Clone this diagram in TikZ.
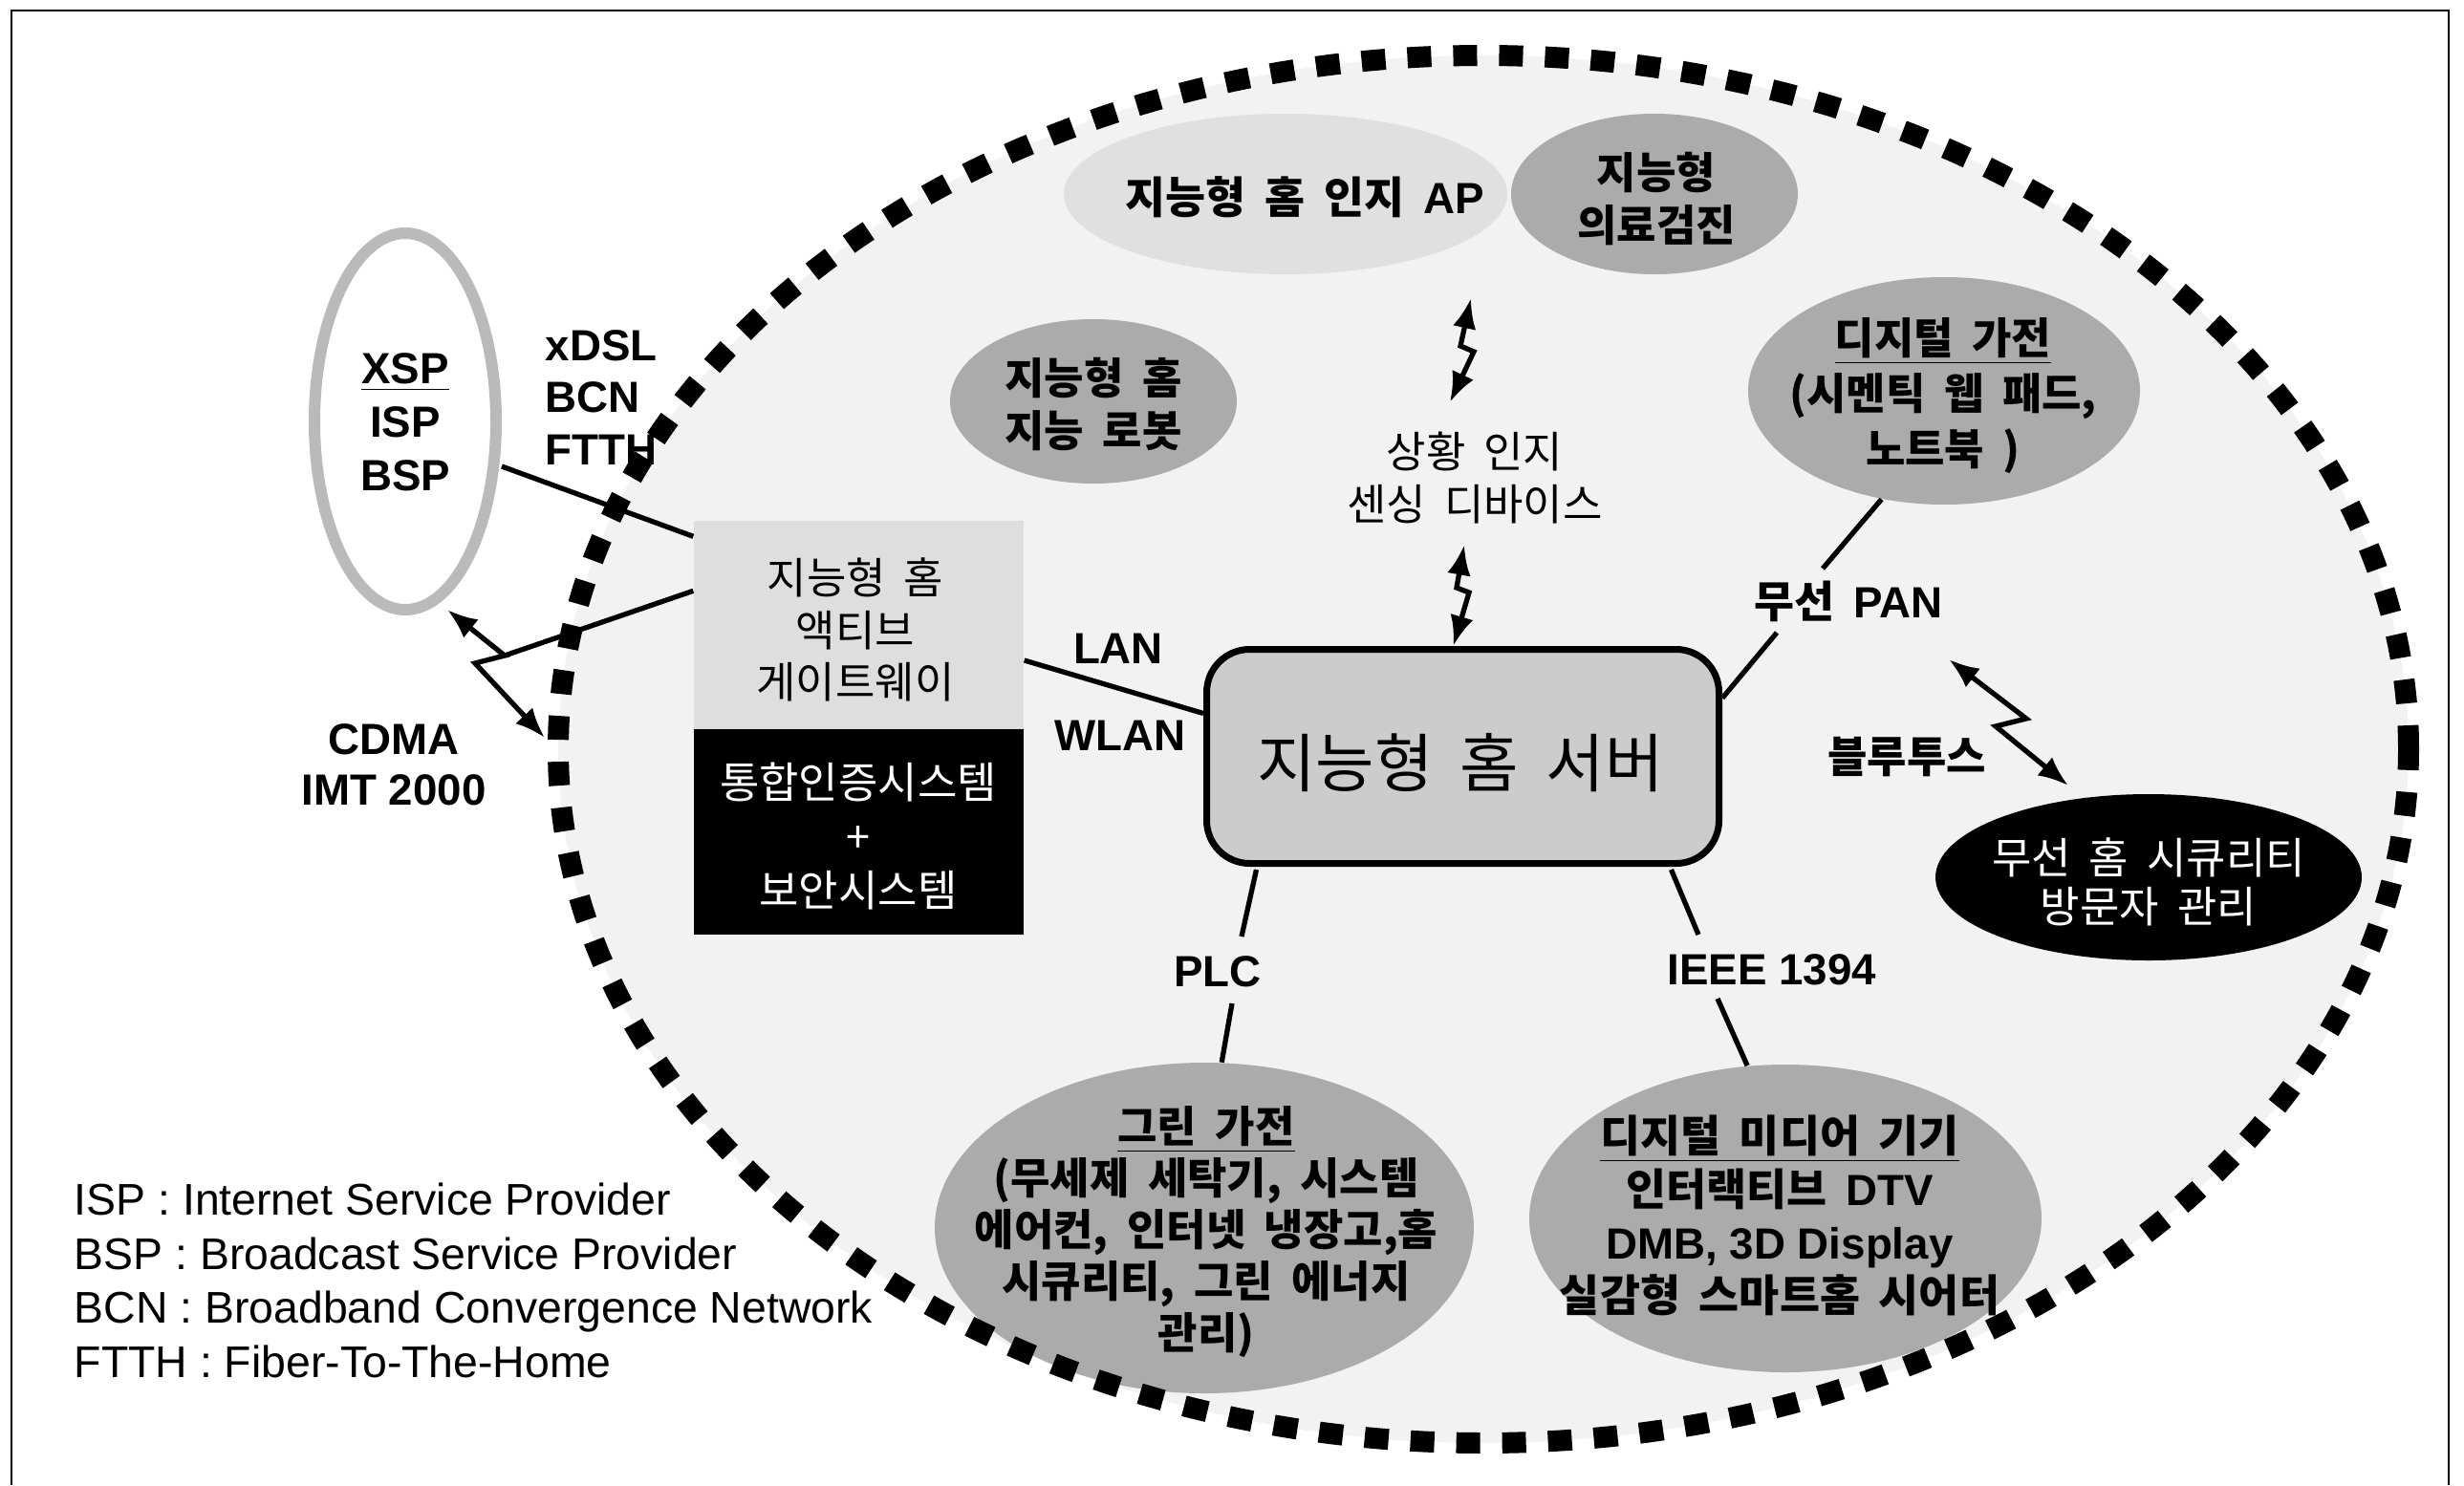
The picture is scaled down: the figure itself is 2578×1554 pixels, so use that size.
\documentclass[tikz,border=0pt]{standalone}
\usepackage{fontspec}
\setmainfont{Liberation Sans}
\newfontfamily\kr[WordSpace=1.9]{Noto Sans CJK KR}
\usetikzlibrary{shapes.geometric,arrows.meta,calc}
\newcommand\fsz[2]{\fontsize{#1}{#2}\selectfont}
\tikzset{
  blob/.style={ellipse, draw=none, inner sep=0pt, fill=black!33},
  conn/.style={line width=1.5pt, draw=black},
  bolt/.style={line width=1.5pt, draw=black, line join=miter, arrows={Latex[length=9pt,width=7pt]-Latex[length=9pt,width=7pt]}},
  lab/.style={inner sep=0pt, align=center, font=\fsz{13pt}{15.6pt}\bfseries},
  krb/.style={inner sep=0pt, align=center, font=\kr\fsz{12.8pt}{15.6pt}\bfseries},
  krr/.style={inner sep=0pt, align=center, font=\kr\fsz{12.8pt}{15.6pt}},
}
\begin{document}
\begin{tikzpicture}[x=0.1mm,y=-0.1mm]
\useasboundingbox (0,0) rectangle (2578,1554);
% frame
\draw[line width=0.6pt] (12,1554) -- (12,11) -- (2562,11) -- (2562,1554);
% home area
\node[ellipse, fill=black!5, inner sep=0pt, minimum width=193.6mm, minimum height=145.2mm] (home) at (1552,784) {};
% gateway
\node[fill=black!13, minimum width=34.5mm, minimum height=21.8mm, inner sep=0pt] (gw) at (898.5,654) {};
\node[fill=black, minimum width=34.5mm, minimum height=21.5mm, inner sep=0pt] (auth) at (898.5,870.5) {};
% blobs
\node[blob, fill=black!12, minimum width=46.4mm, minimum height=16.8mm] (ap) at (1345,203) {};
\node[blob, minimum width=30mm, minimum height=16.8mm] (med) at (1731,203) {};
\node[blob, minimum width=30mm, minimum height=17.2mm] (robot) at (1144,420) {};
\node[blob, minimum width=41mm, minimum height=23.8mm] (dg) at (2034,409) {};
\node[blob, minimum width=56.4mm, minimum height=34.6mm] (green) at (1260,1285) {};
\node[blob, minimum width=53.6mm, minimum height=32.2mm] (media) at (1868,1275) {};
\node[blob, fill=black, minimum width=44.6mm, minimum height=17.4mm] (secu) at (2248,918) {};
\node[ellipse, draw=black!27, line width=1.2mm, inner sep=0pt, minimum width=19mm, minimum height=39.4mm] (xsp) at (424,441) {};
% server
\node[draw=black, line width=0.7mm, rounded corners=4.5mm, fill=black!20, minimum width=53.6mm, minimum height=22.4mm, inner sep=0pt] (server) at (1530.5,791.5) {};
% dashed boundary
\draw[line width=2.2mm, dash pattern=on 2.5mm off 2.3mm] (home.center) ellipse [x radius=96.8mm, y radius=72.6mm];

% texts
\node[lab, font=\fsz{13pt}{15.9pt}\bfseries] (xspt) at (424,442) {\underline{XSP}\\ISP\\BSP};
\node[lab, anchor=west, align=left] (wired) at (570,416) {xDSL\\BCN\\FTTH};
\node[lab, font=\fsz{13pt}{15.1pt}\bfseries] (cdma) at (412,800) {CDMA\\IMT 2000};
\node[krr] (gwt) at (895,659) {지능형 홈\\액티브\\게이트웨이};
\node[krr, text=white, font=\kr\fsz{12.8pt}{16.2pt}] (autht) at (898,875) {통합인증시스템\\+\\보안시스템};
\node[lab] (lan) at (1170,679) {LAN};
\node[lab] (wlan) at (1172,770) {WLAN};
\node[inner sep=0pt, font=\kr\fsz{19pt}{22pt}] (servert) at (1528,798) {지능형 홈 서버};
\node[lab] (apt) at (1365,206) {{\kr 지능형 홈 인지 }AP};
\node[krb, font=\kr\fsz{12.8pt}{15.4pt}\bfseries] (medt) at (1733,208) {지능형\\의료검진};
\node[krb] (robott) at (1144,423) {지능형 홈\\지능 로봇};
\node[krb, font=\kr\fsz{12.8pt}{16.6pt}\bfseries] (dgt) at (2033,414) {\underline{디지털 가전}\\(시멘틱 웹 패드,\\노트북 )};
\node[krr] (sense) at (1543,500) {상황 인지\\센싱 디바이스};
\node[lab] (pan) at (1934,629) {{\kr 무선 }PAN};
\node[krb] (bt) at (1995,792) {블루투스};
\node[krr, text=white, font=\kr\fsz{12.8pt}{14.4pt}] (secut) at (2248,923) {무선 홈 시큐리티\\방문자 관리};
\node[lab] (plc) at (1274,1017) {PLC};
\node[lab] (ieee) at (1854,1015) {IEEE 1394};
\node[krb, font=\kr\fsz{12.8pt}{15.4pt}\bfseries] (greent) at (1262,1289) {\underline{그린 가전}\\(무세제 세탁기, 시스템\\에어컨, 인터넷 냉장고,홈\\시큐리티, 그린 에너지\\관리)};
\node[lab, font=\fsz{13pt}{15.9pt}\bfseries] (mediat) at (1862,1272) {{\kr\underline{디지털 미디어 기기}}\\{\kr 인터랙티브 }DTV\\DMB, 3D Display\\{\kr 실감형 스마트홈 시어터}};
\node[anchor=west, align=left, inner sep=0pt, font=\fsz{13.2pt}{16.1pt}] (legend) at (77,1340) {ISP : Internet Service Provider\\BSP : Broadcast Service Provider\\BCN : Broadband Convergence Network\\FTTH : Fiber-To-The-Home};

% connectors
\draw[conn] ($(xsp.center)+(101,47)$) -- ($(gw.north west)+(0,17)$);
\coordinate (c1) at ($(xsp.center)+(44,197)$);
\coordinate (c2) at (528,686);
\coordinate (c3) at (497,694);
\coordinate (c4) at (570,772);
\draw[bolt] (c1) -- (c2) -- (c3) -- (c4);
\draw[conn] (c2) -- ($(gw.north west)+(0,74)$);
\draw[conn] ($(gw.east)+(0,37)$) -- ($(server.west)+(0,-45)$);

\coordinate (v1) at (1539,312);
\coordinate (v2) at (1528,362);
\coordinate (v3) at (1542,368);
\coordinate (v4) at (1517,421);
\draw[bolt] (v1) -- (v2) -- (v3) -- (v4);
\coordinate (w1) at (1532,570);
\coordinate (w2) at (1524,615);
\coordinate (w3) at (1537,620);
\coordinate (w4) at ($(server.north)+(-10,0)$);
\draw[bolt] (w1) -- (w2) -- (w3) -- (w4);

\draw[conn] (dg.240) -- ($(pan.center)+(-27,-34)$);
\draw[conn] ($(pan.center)+(-75,33)$) -- ($(server.east)+(0,-61)$);
\coordinate (t1) at (2039,690);
\coordinate (t2) at (2120,752);
\coordinate (t3) at (2088,760);
\coordinate (t4) at (2164,822);
\draw[bolt] (t1) -- (t2) -- (t3) -- (t4);

\draw[conn] ($(server.south)+(-216,3)$) -- ($(plc.center)+(25,-37)$);
\draw[conn] ($(plc.center)+(15,33)$) -- (green.84);
\draw[conn] ($(server.south)+(218,3)$) -- ($(ieee.center)+(-77,-37)$);
\draw[conn] ($(ieee.center)+(-57,30)$) -- (media.104);
\end{tikzpicture}
\end{document}
